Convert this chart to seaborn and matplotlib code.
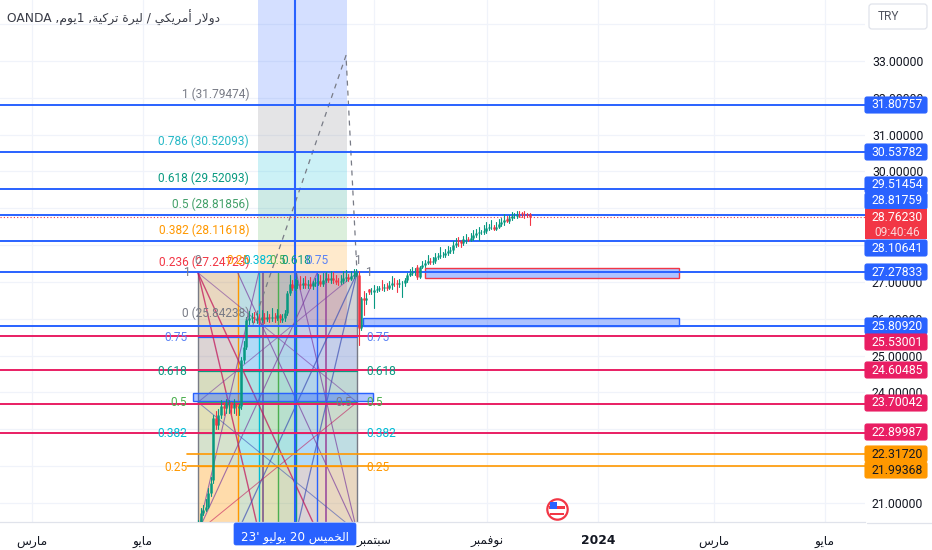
"""USD/TRY daily candles with hand drawn fib, gann box and level annotations."""
import re

import matplotlib
matplotlib.use("Agg")
import matplotlib.pyplot as plt
from matplotlib.patches import FancyBboxPatch, Rectangle
import pandas as pd
import seaborn as sns

# candles, one row of ten bars per line
opens = [
    20.40, 20.49, 20.72, 20.81, 20.90, 21.26, 21.62, 23.30, 23.12, 23.39,
    23.62, 23.57, 23.68, 23.71, 23.57, 23.66, 23.58, 23.62, 24.88, 25.23,
    25.97, 26.01, 26.06, 25.98, 26.03, 25.98, 26.06, 25.99, 26.06, 26.01,
    26.06, 26.01, 26.10, 25.98, 26.01, 26.15, 26.69, 26.95, 26.83, 26.92,
    26.95, 26.93, 26.98, 26.92, 26.95, 26.90, 26.96, 26.99, 27.02, 26.95,
    27.05, 27.10, 27.05, 27.12, 27.05, 27.01, 26.99, 27.03, 27.10, 27.14,
    27.08, 27.15, 27.20, 27.19, 25.74, 26.57, 26.51, 26.80, 26.74, 26.74,
    26.78, 26.80, 26.85, 26.83, 26.86, 26.83, 26.92, 26.98, 26.96, 26.95,
    26.96, 26.96, 27.05, 27.19, 27.24, 27.28, 27.42, 27.13, 27.42, 27.46,
    27.51, 27.58, 27.55, 27.58, 27.67, 27.71, 27.73, 27.73, 27.80, 27.85,
    27.87, 28.00, 28.15, 28.10, 28.05, 28.16, 28.16, 28.14, 28.19, 28.28,
    28.32, 28.35, 28.35, 28.39, 28.46, 28.48, 28.48, 28.45, 28.50, 28.57,
    28.62, 28.70, 28.66, 28.73, 28.79, 28.79, 28.82, 28.86, 28.80, 28.84,
    28.84,
]
closes = [
    20.49, 20.72, 20.81, 20.90, 21.26, 21.53, 23.30, 23.12, 23.39, 23.62,
    23.57, 23.71, 23.71, 23.57, 23.69, 23.62, 23.62, 24.88, 25.23, 25.97,
    26.01, 26.04, 26.01, 26.01, 25.97, 26.06, 25.99, 26.06, 26.01, 26.06,
    26.01, 26.10, 26.01, 26.01, 26.15, 26.69, 26.95, 26.83, 26.92, 26.95,
    26.93, 26.98, 26.92, 26.95, 26.90, 26.96, 26.99, 27.02, 26.95, 27.05,
    27.10, 27.05, 27.12, 27.05, 27.01, 26.99, 27.03, 27.10, 27.14, 27.08,
    27.15, 27.20, 27.26, 25.74, 26.57, 26.51, 26.56, 26.74, 26.74, 26.78,
    26.80, 26.83, 26.83, 26.86, 26.83, 26.92, 26.98, 26.96, 26.95, 26.96,
    26.96, 27.05, 27.19, 27.24, 27.28, 27.28, 27.13, 27.42, 27.46, 27.51,
    27.58, 27.55, 27.58, 27.67, 27.71, 27.73, 27.73, 27.80, 27.85, 27.87,
    28.00, 28.05, 28.10, 28.05, 28.16, 28.16, 28.14, 28.19, 28.28, 28.32,
    28.35, 28.35, 28.39, 28.46, 28.48, 28.48, 28.45, 28.50, 28.57, 28.62,
    28.68, 28.66, 28.73, 28.79, 28.79, 28.82, 28.80, 28.84, 28.78, 28.82,
    28.76,
]
highs = [
    20.55, 20.85, 20.95, 21.10, 21.40, 21.70, 23.40, 23.50, 23.55, 23.80,
    23.75, 23.82, 23.80, 23.75, 23.82, 23.72, 23.70, 24.95, 25.40, 26.05,
    26.20, 26.15, 26.18, 26.16, 26.12, 26.25, 26.15, 26.22, 26.14, 26.28,
    26.16, 26.26, 26.14, 26.12, 26.25, 26.75, 27.20, 27.05, 27.08, 27.05,
    27.15, 27.12, 27.16, 27.06, 27.14, 27.04, 27.10, 27.22, 27.18, 27.25,
    27.28, 27.22, 27.30, 27.26, 27.20, 27.12, 27.18, 27.30, 27.32, 27.22,
    27.30, 27.34, 27.36, 27.30, 26.60, 26.75, 26.70, 26.82, 26.85, 26.92,
    26.88, 26.90, 27.06, 26.95, 26.98, 27.02, 27.15, 27.12, 27.05, 27.08,
    27.04, 27.12, 27.25, 27.34, 27.42, 27.38, 27.46, 27.44, 27.58, 27.60,
    27.72, 27.66, 27.68, 27.80, 27.78, 27.95, 27.82, 27.90, 27.98, 27.96,
    28.12, 28.20, 28.22, 28.14, 28.25, 28.30, 28.22, 28.32, 28.40, 28.44,
    28.48, 28.42, 28.55, 28.62, 28.58, 28.68, 28.56, 28.62, 28.72, 28.74,
    28.85, 28.78, 28.82, 28.90, 28.88, 28.92, 28.94, 28.90, 28.92, 28.88,
    28.88,
]
lows = [
    20.40, 20.45, 20.68, 20.78, 20.85, 21.20, 21.55, 23.00, 23.02, 23.30,
    23.40, 23.45, 23.45, 23.42, 23.45, 23.40, 23.40, 23.55, 24.80, 25.18,
    25.85, 25.90, 25.90, 25.88, 25.85, 25.92, 25.88, 25.95, 25.90, 25.95,
    25.92, 25.96, 25.90, 25.92, 25.95, 26.10, 26.65, 26.78, 26.78, 26.85,
    26.82, 26.85, 26.85, 26.85, 26.84, 26.82, 26.90, 26.92, 26.90, 26.90,
    27.00, 27.00, 26.98, 26.98, 26.95, 26.92, 26.94, 26.98, 27.04, 27.02,
    27.05, 27.12, 27.15, 25.29, 25.70, 26.10, 26.40, 26.68, 26.68, 26.28,
    26.72, 26.75, 26.78, 26.75, 26.78, 26.80, 26.80, 26.88, 26.72, 26.86,
    26.60, 26.88, 27.00, 27.15, 27.20, 27.20, 27.08, 27.10, 27.38, 27.42,
    27.48, 27.48, 27.50, 27.52, 27.62, 27.65, 27.68, 27.68, 27.72, 27.80,
    27.80, 27.95, 27.98, 27.96, 28.00, 28.06, 28.10, 28.10, 28.14, 28.22,
    28.15, 28.30, 28.30, 28.34, 28.40, 28.44, 28.40, 28.42, 28.46, 28.52,
    28.55, 28.62, 28.60, 28.68, 28.74, 28.74, 28.76, 28.76, 28.74, 28.76,
    28.55,
]

blue_levels = [31.80757, 30.53782, 29.51454, 28.81759, 28.10641, 27.27833, 25.80920]
pink_levels = [25.53001, 24.60485, 23.70042, 22.89987]
orange_levels = [22.31720, 21.99368]
last_price = 28.76230
countdown = "09:40:46"

price_ticks = [33, 32, 31, 30, 27, 26, 25, 24, 21]
month_labels = ["مارس", "مايو", "سبتمبر", "نوفمبر", "2024", "مارس", "مايو"]
month_px = [32, 143, 374, 487, 598, 714, 825]
cursor_label = "الخميس 20 يوليو '23"
title_text = "دولار أمريكي / ليرة تركية, 1يوم, OANDA"

fib_ratios = ["1", "0.786", "0.618", "0.5", "0.382", "0.236", "0"]
fib_prices = [31.79474, 30.52093, 29.52093, 28.81856, 28.11618, 27.24723, 25.84238]
fib_colors = ["#787b86", "#26b8c6", "#089981", "#43a06a", "#ff9800", "#f23645", "#787b86"]
fib_fills = ["#787b86", "#00bcd4", "#089981", "#4caf50", "#ff9800", "#f23645"]

gann_ratios = ["0.25", "0.382", "0.5", "0.618", "0.75"]
gann_fracs = [0.25, 0.382, 0.5, 0.618, 0.75]
gann_colors = ["#ff9800", "#00bcd4", "#4caf50", "#089981", "#2962ff", "#787b86"]
gann_row_prices = [21.99, 22.90, 23.74, 24.58, 25.50]

UP = "#089981"
DOWN = "#f23645"
BLUE = "#2962ff"
PINK = "#e91e63"
ORANGE = "#ff9800"
INK = "#131722"

BAR_PX = 2.55
PX_PER_UNIT = 36.83
WIDTH, HEIGHT = 932, 550
PLOT_W, PLOT_H = 865, 522

# price tags get pushed apart on the axis so they do not collide
TAG_Y = {31.80757: 105, 30.53782: 152, 29.51454: 185, 28.81759: 201, 28.10641: 248, 27.27833: 272,
         25.80920: 326, 25.53001: 342, 24.60485: 370, 23.70042: 403, 22.89987: 432, 22.31720: 454, 21.99368: 470}


def bar_at(px):
    return (px - 198) / BAR_PX


# matplotlib has no text shaping, so pick the joined glyphs by hand
FORMS = {
    "ا": (0xFE8D, 0xFE8E, None, None), "أ": (0xFE83, 0xFE84, None, None),
    "ب": (0xFE8F, 0xFE90, 0xFE91, 0xFE92), "ة": (0xFE93, 0xFE94, None, None),
    "ت": (0xFE95, 0xFE96, 0xFE97, 0xFE98), "خ": (0xFEA5, 0xFEA6, 0xFEA7, 0xFEA8),
    "د": (0xFEA9, 0xFEAA, None, None), "ر": (0xFEAD, 0xFEAE, None, None),
    "س": (0xFEB1, 0xFEB2, 0xFEB3, 0xFEB4), "ف": (0xFED1, 0xFED2, 0xFED3, 0xFED4),
    "ك": (0xFED9, 0xFEDA, 0xFEDB, 0xFEDC), "ل": (0xFEDD, 0xFEDE, 0xFEDF, 0xFEE0),
    "م": (0xFEE1, 0xFEE2, 0xFEE3, 0xFEE4), "ن": (0xFEE5, 0xFEE6, 0xFEE7, 0xFEE8),
    "و": (0xFEED, 0xFEEE, None, None), "ي": (0xFEF1, 0xFEF2, 0xFEF3, 0xFEF4),
}


def shape_word(word):
    word = word.replace("لا", "\ufefb")
    out = []
    for i, ch in enumerate(word):
        if ch == "\ufefb":
            joined = i > 0 and word[i - 1] in FORMS and FORMS[word[i - 1]][2] is not None
            out.append("\ufefc" if joined else ch)
            continue
        if ch not in FORMS:
            out.append(ch)
            continue
        prev_joins = i > 0 and word[i - 1] in FORMS and FORMS[word[i - 1]][2] is not None
        next_ok = i + 1 < len(word) and (word[i + 1] in FORMS or word[i + 1] == "\ufefb")
        iso, fin, ini, med = FORMS[ch]
        if prev_joins and next_ok and med:
            out.append(chr(med))
        elif prev_joins:
            out.append(chr(fin))
        elif next_ok and ini:
            out.append(chr(ini))
        else:
            out.append(chr(iso))
    return "".join(out)


def rtl(text):
    # shape each Arabic run, then lay everything out right to left,
    # keeping digit and latin runs readable
    parts = re.findall(r"[A-Za-z0-9.']+|[^A-Za-z0-9.']+", text)
    shaped = []
    for part in reversed(parts):
        if part.startswith("'"):
            shaped.append(part[1:] + "'")
        elif re.match(r"[A-Za-z0-9.]", part):
            shaped.append(part)
        else:
            words = re.split(r"(\W+)", part)
            shaped.append("".join(shape_word(w) for w in words)[::-1])
    return "".join(shaped)


sns.set_theme(style="white")
plt.rcParams["font.family"] = ["Roboto", "DejaVu Sans"]

fig = plt.figure(figsize=(WIDTH / 100, HEIGHT / 100), dpi=100)
ax = fig.add_axes([0, (HEIGHT - PLOT_H) / HEIGHT, PLOT_W / WIDTH, PLOT_H / HEIGHT])
ax.set_xlim(bar_at(0), bar_at(PLOT_W))
ax.set_ylim(33 - (PLOT_H - 61) / PX_PER_UNIT, 33 + 61 / PX_PER_UNIT)
ylim_top = ax.get_ylim()[1]

# grid
for tick in range(21, 35):
    ax.axhline(tick, color="#f0f3fa", lw=0.9, zorder=0)
for px in month_px:
    ax.axvline(bar_at(px), color="#f0f3fa", lw=0.9, zorder=0)

# fib retracement bands
fib_left, fib_right = bar_at(258), bar_at(347)
ax.fill_between([fib_left, fib_right], fib_prices[0], ylim_top, color=BLUE, alpha=0.2, lw=0, zorder=1)
for hi, lo, col in zip(fib_prices[:-1], fib_prices[1:], fib_fills):
    ax.fill_between([fib_left, fib_right], lo, hi, color=col, alpha=0.2, lw=0, zorder=1)
for ratio, price, col in zip(fib_ratios, fib_prices, fib_colors):
    ax.text(bar_at(249), price + 0.30, f"{ratio} ({price:.5f})", color=col, fontsize=8.6,
            ha="right", va="center", zorder=6)

# gann box
box_l, box_r = bar_at(198), bar_at(357)
box_bottom, box_top = 20.22, 27.25
col_edges = [box_l] + [box_l + f * (box_r - box_l) for f in gann_fracs] + [box_r]
row_edges = [box_bottom] + gann_row_prices + [box_top]
for left, right, col in zip(col_edges[:-1], col_edges[1:], gann_colors):
    ax.fill_between([left, right], box_bottom, box_top, color=col, alpha=0.2, lw=0, zorder=1)
for lo, hi, col in zip(row_edges[:-1], row_edges[1:], gann_colors):
    ax.fill_between([box_l, box_r], lo, hi, color=col, alpha=0.16, lw=0, zorder=1)
for edge, col in zip(col_edges, ["#787b86"] + gann_colors):
    ax.plot([edge, edge], [box_bottom, box_top], color=col, lw=1.0, zorder=2)
for price, col in zip(gann_row_prices, gann_colors):
    ax.plot([box_l, box_r], [price, price], color=col, lw=0.9, zorder=2)
for px, col in zip([263, 326], ["#7e5a8c", "#9c4f9f"]):
    ax.plot([bar_at(px)] * 2, [box_bottom, box_top], color=col, lw=1.2, zorder=2)

# fan lines out of the box corners
box_mid = (box_bottom + box_top) / 2
for frac in [0.382, 0.75]:
    near = box_l + frac * (box_r - box_l)
    far = box_r - frac * (box_r - box_l)
    ax.plot([box_l, near], [box_top, box_bottom], color="#c2185b", lw=1.0, alpha=0.75, zorder=2)
    ax.plot([box_l, near], [box_bottom, box_top], color="#7b3fa0", lw=0.8, alpha=0.7, zorder=2)
    ax.plot([box_r, far], [box_top, box_bottom], color="#3f51b5", lw=0.9, alpha=0.7, zorder=2)
    ax.plot([box_r, far], [box_bottom, box_top], color="#7b3fa0", lw=0.8, alpha=0.7, zorder=2)
ax.plot([box_l, box_r], [box_top, box_mid], color="#7b3fa0", lw=0.7, alpha=0.6, zorder=2)
ax.plot([box_l, box_r], [box_bottom, box_mid], color="#c2185b", lw=0.7, alpha=0.6, zorder=2)
ax.plot([box_r, box_l], [box_top, box_mid], color="#7b3fa0", lw=0.7, alpha=0.6, zorder=2)
ax.plot([box_r, box_l], [box_bottom, box_mid], color="#3f51b5", lw=0.7, alpha=0.6, zorder=2)

# zone rectangles
zones = [(425, 679, 27.38, 27.11, DOWN, 1.0), (363, 679, 26.02, 25.80, BLUE, 1.0), (193, 373, 23.99, 23.77, BLUE, 1.0)]
for x0, x1, top, bottom, edge, lw in zones:
    ax.add_patch(Rectangle((bar_at(x0), bottom), bar_at(x1) - bar_at(x0), top - bottom, facecolor=BLUE,
                           alpha=0.38, lw=0, zorder=3))
    ax.add_patch(Rectangle((bar_at(x0), bottom), bar_at(x1) - bar_at(x0), top - bottom, facecolor="none",
                           edgecolor=edge, lw=lw, zorder=3))

# dashed swing lines
ax.plot([bar_at(253), bar_at(346), bar_at(357)], [25.84, 33.15, 27.25], color="#787b86", lw=0.9,
        ls=(0, (4, 4)), zorder=2)

# horizontal levels
ax.axvline(bar_at(295), color=BLUE, lw=1.5, zorder=4)
for price in blue_levels:
    ax.axhline(price, color=BLUE, lw=1.4, zorder=4)
for price in pink_levels:
    ax.axhline(price, color=PINK, lw=1.4, zorder=4)
for price in orange_levels:
    ax.plot([bar_at(187), bar_at(PLOT_W)], [price, price], color=ORANGE, lw=1.2, zorder=4)
ax.axhline(last_price, color=DOWN, lw=0.8, ls=(0, (1, 2)), zorder=4)

# candles, seaborn draws wick and body per bar as separate units
bars = pd.DataFrame({"bar": range(len(closes)), "open": opens, "high": highs, "low": lows, "close": closes})
bars["dir"] = ["up" if c >= o else "down" for o, c in zip(bars["open"], bars["close"])]
wicks = bars.melt(id_vars=["bar", "dir"], value_vars=["low", "high"], value_name="price")
bodies = bars.melt(id_vars=["bar", "dir"], value_vars=["open", "close"], value_name="price")
palette = {"up": UP, "down": DOWN}
sns.lineplot(data=wicks, x="bar", y="price", units="bar", hue="dir", palette=palette, estimator=None,
             legend=False, lw=0.8, sort=False, ax=ax, zorder=5)
sns.lineplot(data=bodies, x="bar", y="price", units="bar", hue="dir", palette=palette, estimator=None,
             legend=False, lw=1.8, sort=False, solid_capstyle="butt", ax=ax, zorder=5)

# gann labels, both sides of the box and along its top
for ratio, price, col in zip(gann_ratios, gann_row_prices, gann_colors):
    shown = "#5b82f5" if col == BLUE else col
    ax.text(bar_at(187), price - 0.02, ratio, color=shown, fontsize=8.6, ha="right", va="center", zorder=6)
    ax.text(bar_at(366), price - 0.02, ratio, color=shown, fontsize=8.6, ha="left", va="center", zorder=6)
ax.text(bar_at(344), 23.74, "0.5", color="#787b86", fontsize=8.6, ha="center", va="center", zorder=6)
ax.text(bar_at(186), 27.25, "1", color="#787b86", fontsize=8.6, ha="center", va="center", zorder=6)
ax.text(bar_at(368), 27.25, "1", color="#787b86", fontsize=8.6, ha="center", va="center", zorder=6)
ax.text(bar_at(357), 27.58, "1", color="#787b86", fontsize=8.6, ha="center", va="center", zorder=6)
ax.text(bar_at(198), 27.58, "0", color="#787b86", fontsize=8.6, ha="center", va="center", zorder=6)
for ratio, edge, col in zip(gann_ratios, col_edges[1:-1], gann_colors):
    shown = "#5b82f5" if col == BLUE else col
    ax.text(edge, 27.58, ratio, color=shown, fontsize=8.6, ha="center", va="center", zorder=6)

# economic event flag
flag_x, flag_y = bar_at(557), 20.84
ax.scatter([flag_x], [flag_y], s=215, facecolor="white", edgecolor="#f23645", lw=1.6, zorder=6)
ax.add_patch(Rectangle((bar_at(549), 20.84), bar_at(565) - bar_at(549), 0.07, color="#f23645", lw=0, zorder=7))
ax.add_patch(Rectangle((bar_at(550), 20.67), bar_at(564) - bar_at(550), 0.07, color="#f23645", lw=0, zorder=7))
ax.add_patch(Rectangle((bar_at(550), 20.84), bar_at(557) - bar_at(550), 0.18, color="#2962ff", lw=0, zorder=8))

# axes
sns.despine(ax=ax, top=True, left=True, right=True, bottom=False)
ax.spines["bottom"].set_color("#e0e3eb")
ax.spines["bottom"].set_linewidth(0.9)
ax.yaxis.tick_right()
ax.set_yticks(price_ticks)
ax.set_yticklabels([f"{t:.5f}" for t in price_ticks], fontsize=8.8, color=INK)
ax.set_xticks([bar_at(px) for px in month_px])
ax.set_xticklabels([rtl(m) for m in month_labels], fontsize=8.8, color=INK, family=["DejaVu Sans"])
ax.get_xticklabels()[4].set_fontweight("bold")
ax.tick_params(axis="y", length=0, pad=5)
ax.tick_params(axis="x", length=0, pad=9)
ax.set_xlabel("")
ax.set_ylabel("")

# price axis tags sit in pixel space of the figure
tag_ax = fig.add_axes([0, 0, 1, 1], facecolor="none")
tag_ax.set_xlim(0, WIDTH)
tag_ax.set_ylim(HEIGHT, 0)
tag_ax.axis("off")
tag_ax.plot([867, WIDTH], [522.5, 522.5], color="#e0e3eb", lw=0.9)


def price_y(price):
    return 61 + (33 - price) * PX_PER_UNIT


def tag(y, colour):
    tag_ax.add_patch(FancyBboxPatch((865, y - 8), 62, 16, boxstyle="round,pad=0,rounding_size=2",
                                    facecolor=colour, edgecolor=colour, lw=0.8, zorder=3))


for price in blue_levels + pink_levels + orange_levels:
    colour = BLUE if price in blue_levels else PINK if price in pink_levels else ORANGE
    tag(TAG_Y[price], colour)
    tag_ax.text(897.5, TAG_Y[price], f"{price:.5f}", color=INK if colour == ORANGE else "white", fontsize=8.8,
                ha="center", va="center", zorder=4)

tag_y = price_y(last_price)
tag_ax.add_patch(Rectangle((865, 209), 62, 30, facecolor=DOWN, lw=0, zorder=5))
tag_ax.text(897.5, tag_y, f"{last_price:.5f}", color="white", fontsize=8.8, ha="center", va="center", zorder=6)
tag_ax.text(897.5, tag_y + 15, countdown, color="#fbd5d8", fontsize=8.6, ha="center", va="center", zorder=6)

# crosshair date tag on the time axis
tag_ax.add_patch(FancyBboxPatch((234, 523), 122, 22, boxstyle="round,pad=0,rounding_size=2",
                                facecolor=BLUE, edgecolor=BLUE, lw=0.5, zorder=5))
tag_ax.text(295, 537, rtl(cursor_label), color="white", fontsize=8.6, ha="center", va="center",
            family=["DejaVu Sans"], zorder=6)

# currency button and chart title
tag_ax.add_patch(FancyBboxPatch((869, 4), 58, 25, boxstyle="round,pad=0,rounding_size=3",
                                facecolor="white", edgecolor="#e0e3eb", lw=0.9, zorder=3))
tag_ax.text(878, 17, "TRY", color="#50535e", fontsize=8.6, ha="left", va="center", zorder=4)
tag_ax.text(7, 18, rtl(title_text), color="#3a3d48", fontsize=8.8, ha="left", va="center", family=["DejaVu Sans"])

plt.savefig("out.png", dpi=100)
